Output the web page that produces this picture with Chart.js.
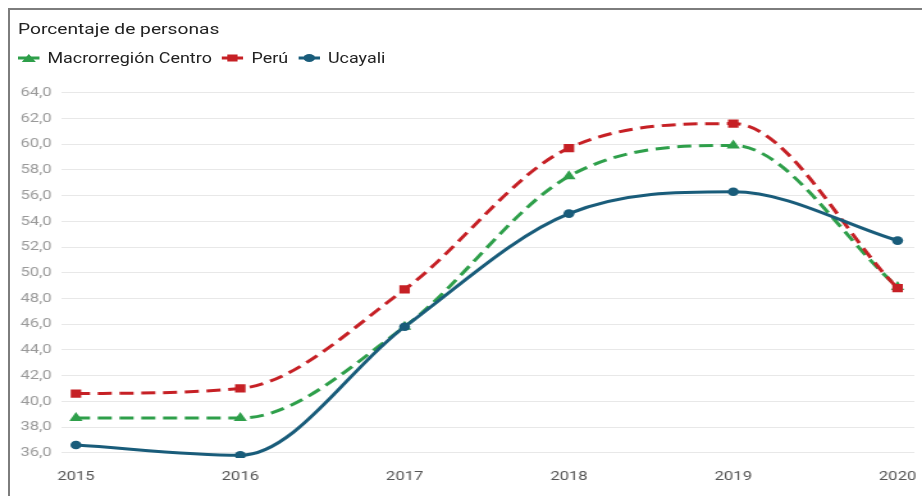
<!DOCTYPE html>
<html>
<head>
<meta charset="utf-8">
<script src="https://cdn.jsdelivr.net/npm/chart.js@4"></script>
<style>
  html, body { margin: 0; padding: 0; background: #fff; width: 922px; height: 496px; overflow: hidden; }
  #stage { position: absolute; left: 0; top: 0; width: 720px; height: 496px; transform: scaleX(1.2806); transform-origin: 0 0; font-family: Roboto, "Noto Sans", sans-serif; }
  #title { position: absolute; left: 14px; top: 19.5px; font-size: 15px; line-height: 18px; color: #222; white-space: nowrap; }
  #legend { position: absolute; left: 14px; top: 48.5px; height: 18px; display: flex; align-items: center; font-size: 14px; line-height: 18px; color: #222; white-space: nowrap; }
  .item { display: flex; align-items: center; margin-right: 8px; }
  .item svg { margin-right: 6px; }
  #c { position: absolute; left: 0; top: 0; }
  #frame { position: absolute; left: 8px; top: 8px; width: 920px; height: 494px; border-top: 2px solid #7d7d7d; border-left: 2px solid #7d7d7d; pointer-events: none; }
</style>
</head>
<body>
<div id="stage">
  <div id="title">Porcentaje de personas</div>
  <div id="legend"></div>
  <canvas id="c" width="720" height="496"></canvas>
</div>
<div id="frame"></div>
<script>
const years = [2015, 2016, 2017, 2018, 2019, 2020];
const yTicks = [36, 38, 40, 42, 44, 46, 48, 50, 52, 54, 56, 58, 60, 62, 64];
const seriesNames = ["Macrorregión Centro", "Perú", "Ucayali"];
const macroValues = [38.7, 38.7, 45.8, 57.5, 59.9, 48.9];
const peruValues = [40.6, 41.0, 48.7, 59.7, 61.6, 48.8];
const ucayaliValues = [36.6, 35.8, 45.8, 54.6, 56.3, 52.5];

const colors = { macro: "#2e9f4a", peru: "#c62025", ucayali: "#195c7a" };

// HTML legend
const legendDefs = [
  { name: seriesNames[0], color: colors.macro, shape: "tri" },
  { name: seriesNames[1], color: colors.peru, shape: "rect" },
  { name: seriesNames[2], color: colors.ucayali, shape: "circ" }
];
const legendEl = document.getElementById("legend");
legendDefs.forEach(d => {
  let shape = "";
  if (d.shape === "tri") shape = `<polygon points="8.5,1 14,9 3,9" fill="${d.color}"/>`;
  if (d.shape === "rect") shape = `<rect x="4.5" y="1.5" width="8" height="7" fill="${d.color}"/>`;
  if (d.shape === "circ") shape = `<ellipse cx="8.5" cy="5" rx="4.5" ry="4" fill="${d.color}"/>`;
  const item = document.createElement("div");
  item.className = "item";
  item.innerHTML = `<svg width="17" height="10" viewBox="0 0 17 10"><line x1="0" y1="5" x2="17" y2="5" stroke="${d.color}" stroke-width="3"/>${shape}</svg><span>${d.name}</span>`;
  legendEl.appendChild(item);
});

const toXY = vals => years.map((y, i) => ({ x: y, y: vals[i] }));
const fmt = v => Number(v).toFixed(1).replace(".", ",");

new Chart(document.getElementById("c"), {
  type: "line",
  data: {
    datasets: [
      {
        label: seriesNames[0], data: toXY(macroValues), order: 2,
        borderColor: colors.macro, backgroundColor: colors.macro,
        borderWidth: 3, borderDash: [11, 6], pointStyle: "triangle", pointRadius: 6,
        pointBorderWidth: 0, cubicInterpolationMode: "monotone"
      },
      {
        label: seriesNames[1], data: toXY(peruValues), order: 1,
        borderColor: colors.peru, backgroundColor: colors.peru,
        borderWidth: 3, borderDash: [11, 6], pointStyle: "rect", pointRadius: 5.8,
        pointBorderWidth: 0, cubicInterpolationMode: "monotone"
      },
      {
        label: seriesNames[2], data: toXY(ucayaliValues), order: 0,
        borderColor: colors.ucayali, backgroundColor: colors.ucayali,
        borderWidth: 3, pointStyle: "circle", pointRadius: 4.3,
        pointBorderWidth: 0, cubicInterpolationMode: "monotone"
      }
    ]
  },
  options: {
    responsive: false,
    animation: false,
    layout: { padding: { top: 88, right: 3, bottom: 0, left: 0 } },
    plugins: { legend: { display: false }, title: { display: false }, tooltip: { enabled: false } },
    scales: {
      x: {
        type: "linear",
        min: 2014.915,
        max: 2020.102,
        afterBuildTicks: s => { s.ticks = years.map(v => ({ value: v })); },
        afterFit: s => { s.height = 38; s.paddingLeft = 0; s.paddingRight = 0; },
        grid: { display: false, drawTicks: false },
        border: { display: false },
        ticks: {
          callback: v => String(v), color: "#555", padding: 11, maxRotation: 0, autoSkip: false,
          font: { family: "Roboto", size: 13 }
        }
      },
      y: {
        min: 35.59,
        max: 64.37,
        afterBuildTicks: s => { s.ticks = yTicks.map(v => ({ value: v })); },
        afterFit: s => { s.width = 48.4; s.paddingTop = 0; s.paddingBottom = 0; },
        grid: { color: "#e8e8e8", lineWidth: 1, drawTicks: false },
        border: { display: false },
        ticks: {
          callback: v => fmt(v), color: "#9a9a9a", padding: 8, autoSkip: false,
          font: { family: "Roboto", size: 13 }
        }
      }
    }
  }
});
</script>
</body>
</html>
